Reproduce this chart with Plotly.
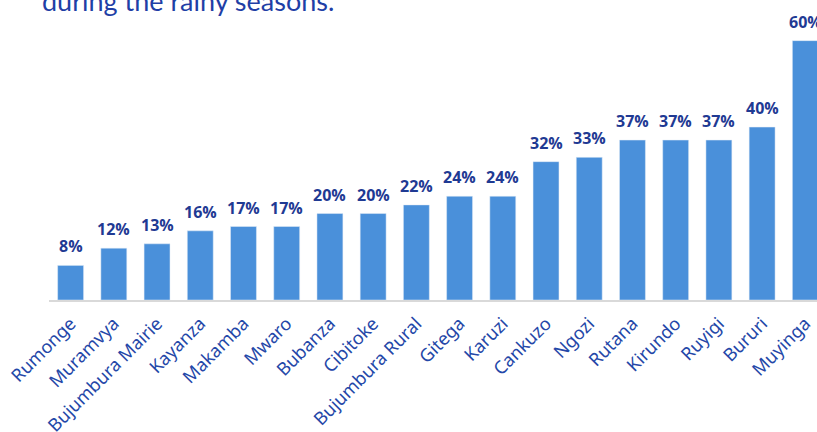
import plotly.graph_objects as go

provinces = ["Rumonge", "Muramvya", "Bujumbura Mairie", "Kayanza", "Makamba", "Mwaro",
             "Bubanza", "Cibitoke", "Bujumbura Rural", "Gitega", "Karuzi", "Cankuzo",
             "Ngozi", "Rutana", "Kirundo", "Ruyigi", "Bururi", "Muyinga"]
shares = [8, 12, 13, 16, 17, 17, 20, 20, 22, 24, 24, 32, 33, 37, 37, 37, 40, 60]
title_text = "during the rainy seasons."

BAR = "#4A90DA"
LABEL = "#1F3A93"
TICK = "#2447A8"

fig = go.Figure()
fig.add_trace(go.Bar(
    x=list(range(len(provinces))), y=shares, marker_color=BAR, width=0.6,
    hoverinfo="skip",
))

# value labels above each bar
for i, v in enumerate(shares):
    fig.add_annotation(
        x=i, y=v, text=f"{v}%", showarrow=False, yanchor="bottom", yshift=6,
        font=dict(family="Open Sans", size=16, color=LABEL, weight="bold"),
    )

fig.add_annotation(
    xref="paper", yref="paper", x=-0.012, y=0.935, xanchor="left", yanchor="bottom",
    text=title_text, showarrow=False,
    font=dict(family="Lato", size=27, color="#1F3FA6"),
)

fig.update_layout(
    width=817, height=432, margin=dict(l=49, r=0, t=0, b=132, autoexpand=False),
    paper_bgcolor="white", plot_bgcolor="white", showlegend=False,
    xaxis=dict(
        range=[-0.5, 17.27], tickmode="array", tickvals=list(range(len(provinces))),
        ticktext=provinces, tickangle=-45, showgrid=False, zeroline=False,
        showline=True, linecolor="#D9D9D9", linewidth=2, ticks="",
        ticklabelstandoff=4, automargin=False,
        tickfont=dict(family="Noto Sans", size=18, color=TICK),
    ),
    yaxis=dict(range=[0, 69.4], visible=False, showgrid=False, automargin=False),
)

fig.write_html("out.html")
